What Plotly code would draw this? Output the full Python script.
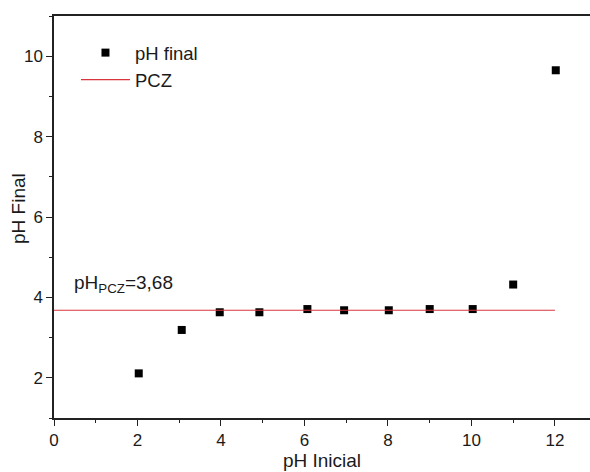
import plotly.graph_objects as go

# Initial and final pH readings of the point-of-zero-charge test
ph_inicial = [2.03, 3.06, 3.97, 4.92, 6.07, 6.95, 8.02, 9.0, 10.03, 11.0, 12.02]
ph_final = [2.11, 3.19, 3.63, 3.63, 3.71, 3.68, 3.68, 3.71, 3.71, 4.32, 9.65]

pcz_value = 3.68
pcz_x = [0, 12]
pcz_label = "pH<sub>PCZ</sub>=3,68"

x_ticks = [0, 2, 4, 6, 8, 10, 12]
y_ticks = [2, 4, 6, 8, 10]

FONT = "Arial, Liberation Sans, sans-serif"
AXIS_COLOR = "#222222"
TEXT_COLOR = "#1a1a1a"

fig = go.Figure()

fig.add_trace(go.Scatter(
    x=ph_inicial, y=ph_final, mode="markers", name="pH final",
    marker=dict(symbol="square", size=8, color="black"),
))
fig.add_trace(go.Scatter(
    x=pcz_x, y=[pcz_value] * len(pcz_x), mode="lines", name="PCZ",
    line=dict(color="#d8363c", width=1.2),
))

fig.add_annotation(
    x=0.42, y=3.98, xref="x", yref="y", text=pcz_label, showarrow=False,
    xanchor="left", yanchor="bottom", font=dict(family=FONT, size=19, color=TEXT_COLOR),
)

# Vertical axis title, placed as rotated text beside the y axis
fig.add_annotation(
    x=(19 - 54) / 536, y=0.52, xref="paper", yref="paper", text="pH Final",
    showarrow=False, textangle=-90, xanchor="center", yanchor="middle",
    font=dict(family=FONT, size=19, color=TEXT_COLOR),
)

axis_common = dict(
    showgrid=False, zeroline=False, showline=True, linecolor=AXIS_COLOR, linewidth=1.5,
    ticks="outside", ticklen=6, tickwidth=1.3, tickcolor=AXIS_COLOR,
    tickfont=dict(family=FONT, size=17, color=TEXT_COLOR),
    minor=dict(ticks="outside", ticklen=3, tickwidth=1.3, tickcolor=AXIS_COLOR, dtick=1),
)

fig.update_xaxes(
    range=[0, 12.84], tickvals=x_ticks, mirror=True,
    title=dict(text="pH Inicial", font=dict(family=FONT, size=19, color=TEXT_COLOR), standoff=3),
    **axis_common,
)
fig.update_yaxes(range=[1, 11], tickvals=y_ticks, **axis_common)

fig.update_layout(
    width=590, height=472,
    margin=dict(l=54, r=0, t=16, b=54),
    paper_bgcolor="white", plot_bgcolor="white",
    font=dict(family=FONT, color=TEXT_COLOR),
    showlegend=True,
    legend=dict(
        x=0.041, y=0.955, xanchor="left", yanchor="top",
        bgcolor="rgba(0,0,0,0)", font=dict(family=FONT, size=18.5, color=TEXT_COLOR),
        itemwidth=49, tracegroupgap=0,
    ),
)

fig.write_html("out.html")
